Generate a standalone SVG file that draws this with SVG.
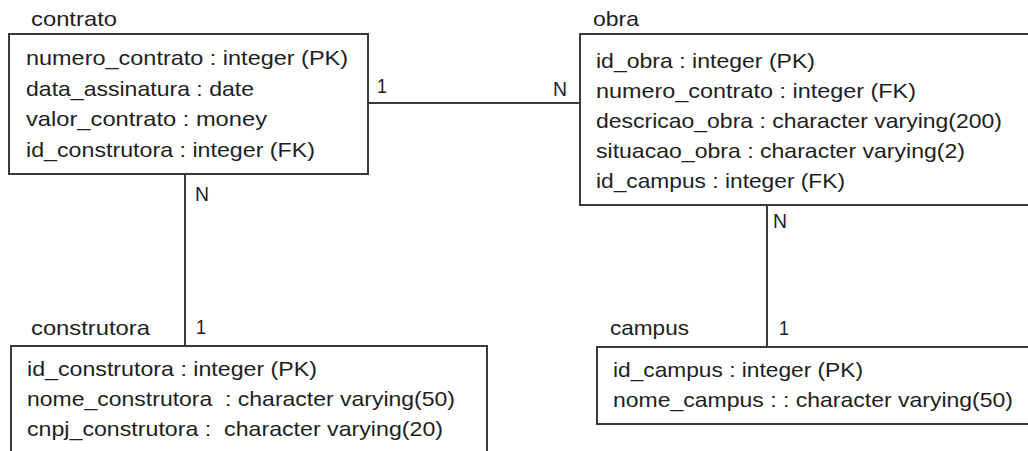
<svg xmlns="http://www.w3.org/2000/svg" width="1028" height="451" viewBox="0 0 1028 451">
<style>
  .box { fill: #ffffff; stroke: #3a3a3a; stroke-width: 2; }
  .conn { stroke: #3a3a3a; stroke-width: 2; fill: none; }
  text { font-family: "Liberation Sans", Arial, sans-serif; font-size: 21px; fill: #1e1e1e; white-space: pre; }
</style>
<rect x="0" y="0" width="1028" height="451" fill="#ffffff"/>
<g id="connectors">
  <line class="conn" x1="368" y1="103" x2="580" y2="103"/>
  <line class="conn" x1="185" y1="174" x2="185" y2="346"/>
  <line class="conn" x1="767" y1="205" x2="767" y2="347"/>
  <text x="377" y="93" textLength="10" lengthAdjust="spacingAndGlyphs">1</text>
  <text x="553" y="96" textLength="14" lengthAdjust="spacingAndGlyphs">N</text>
  <text x="195" y="201" textLength="14" lengthAdjust="spacingAndGlyphs">N</text>
  <text x="196" y="334" textLength="10" lengthAdjust="spacingAndGlyphs">1</text>
  <text x="773" y="228" textLength="14" lengthAdjust="spacingAndGlyphs">N</text>
  <text x="779" y="335" textLength="10" lengthAdjust="spacingAndGlyphs">1</text>
</g>
<g id="contrato">
  <text x="31" y="26" textLength="86" lengthAdjust="spacingAndGlyphs">contrato</text>
  <rect class="box" x="9" y="34" width="359" height="140"/>
  <text x="26" y="65" textLength="322" lengthAdjust="spacingAndGlyphs">numero_contrato : integer (PK)</text>
  <text x="26" y="95.5" textLength="228" lengthAdjust="spacingAndGlyphs">data_assinatura : date</text>
  <text x="26" y="126" textLength="241" lengthAdjust="spacingAndGlyphs">valor_contrato : money</text>
  <text x="26" y="156.5" textLength="289" lengthAdjust="spacingAndGlyphs">id_construtora : integer (FK)</text>
</g>
<g id="obra">
  <text x="593" y="26" textLength="46" lengthAdjust="spacingAndGlyphs">obra</text>
  <rect class="box" x="580" y="34" width="460" height="171"/>
  <text x="596" y="68" textLength="219" lengthAdjust="spacingAndGlyphs">id_obra : integer (PK)</text>
  <text x="596" y="98" textLength="320" lengthAdjust="spacingAndGlyphs">numero_contrato : integer (FK)</text>
  <text x="596" y="128" textLength="406" lengthAdjust="spacingAndGlyphs">descricao_obra : character varying(200)</text>
  <text x="596" y="158" textLength="369" lengthAdjust="spacingAndGlyphs">situacao_obra : character varying(2)</text>
  <text x="596" y="188" textLength="249" lengthAdjust="spacingAndGlyphs">id_campus : integer (FK)</text>
</g>
<g id="construtora">
  <text x="31" y="335" textLength="119" lengthAdjust="spacingAndGlyphs">construtora</text>
  <rect class="box" x="11" y="346" width="476" height="120"/>
  <text x="27" y="376" textLength="290" lengthAdjust="spacingAndGlyphs">id_construtora : integer (PK)</text>
  <text x="27" y="406" textLength="428" lengthAdjust="spacingAndGlyphs">nome_construtora  : character varying(50)</text>
  <text x="27" y="436" textLength="416" lengthAdjust="spacingAndGlyphs">cnpj_construtora :  character varying(20)</text>
</g>
<g id="campus">
  <text x="610" y="335" textLength="79" lengthAdjust="spacingAndGlyphs">campus</text>
  <rect class="box" x="597" y="347" width="450" height="77"/>
  <text x="613" y="377" textLength="250" lengthAdjust="spacingAndGlyphs">id_campus : integer (PK)</text>
  <text x="613" y="407" textLength="400" lengthAdjust="spacingAndGlyphs">nome_campus : : character varying(50)</text>
</g>
</svg>
